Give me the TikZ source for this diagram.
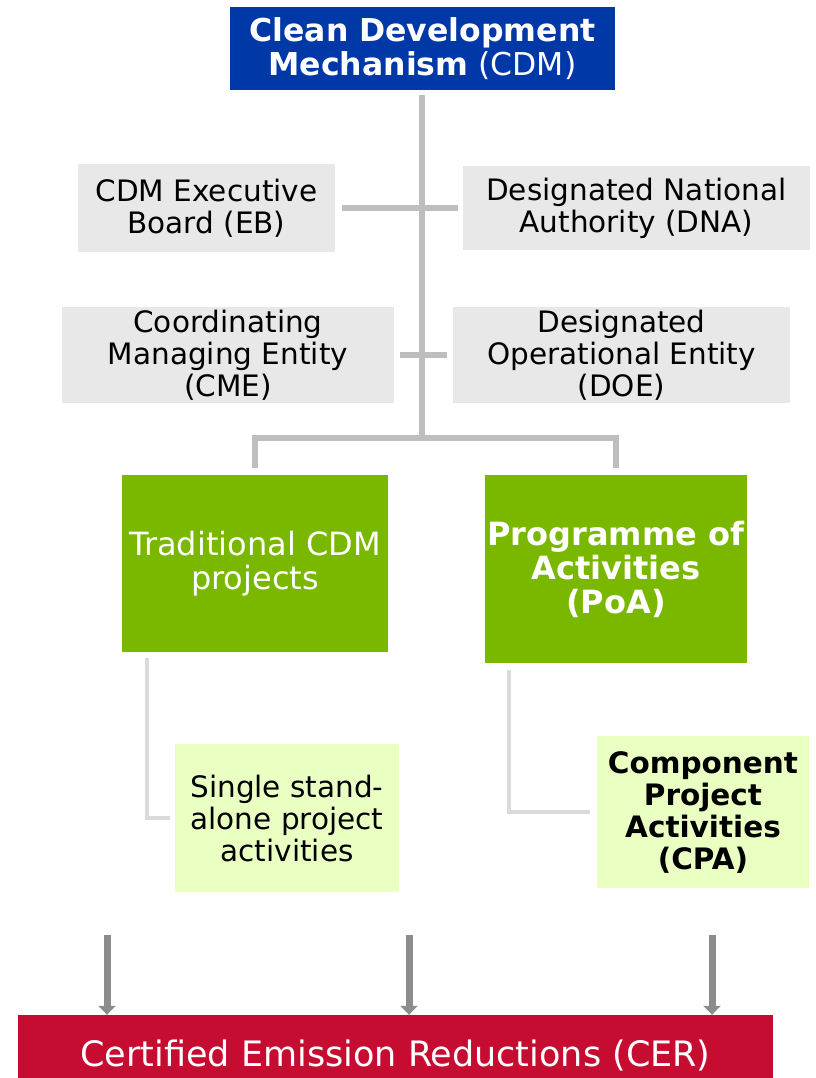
\documentclass[tikz,border=0pt]{standalone}
\usepackage{fontspec}
\setmainfont{DejaVu Sans}
\usepackage{tikz}
\usetikzlibrary{positioning,arrows.meta,calc}

\definecolor{cdmblue}{RGB}{0,56,168}
\definecolor{boxgray}{RGB}{232,232,232}
\definecolor{linegray}{RGB}{190,190,190}
\definecolor{leggray}{RGB}{218,218,218}
\definecolor{arrowgray}{RGB}{140,140,140}
\definecolor{poagreen}{RGB}{122,184,0}
\definecolor{palegreen}{RGB}{234,255,194}
\definecolor{cerred}{RGB}{198,12,48}

\begin{document}
\begin{tikzpicture}[
x=1pt, y=-1pt,
box/.style={
  rectangle,
  inner sep=0pt,
  align=center,
  font=\fontsize{29.5}{32}\selectfont},
bodybox/.style={
  box,
  fill=boxgray},
kindbox/.style={
  box,
  fill=poagreen,
  text=white,
  font=\fontsize{32}{34}\selectfont},
activitybox/.style={
  box,
  fill=palegreen},
trunk/.style={
  draw=linegray,
  line width=6pt},
leg/.style={
  draw=leggray,
  line width=4.5pt},
cerarrow/.style={
  draw=arrowgray,
  line width=7pt,
  -{Triangle[width=17pt,length=9pt]}}
]
\clip (0,0) rectangle (815,1078);
\fill[white] (0,0) rectangle (815,1078);

% top of the tree
\node[box, fill=cdmblue, text=white,
  font=\fontsize{31.5}{34}\selectfont,
  minimum width=385pt, minimum height=83pt]
  (cdm) at (422.5,48.5)
  {\textbf{Clean Development}\\\textbf{Mechanism} (CDM)};

% bodies along the trunk
\node[bodybox, minimum width=257pt, minimum height=88pt]
  (eb) at (206.5,208) {CDM Executive\\Board (EB)};
\node[bodybox, minimum width=347pt, minimum height=84pt]
  (dna) at (636.5,208) {Designated National\\Authority (DNA)};
\node[bodybox, minimum width=332pt, minimum height=96pt]
  (cme) at (228,355) {Coordinating\\Managing Entity\\(CME)};
\node[bodybox, minimum width=337pt, minimum height=96pt]
  (doe) at (621.5,355) {Designated\\Operational Entity\\(DOE)};

% the two kinds of project
\node[kindbox, minimum width=266pt, minimum height=177pt]
  (trad) at (255,563.5) {Traditional CDM\\projects};
\node[kindbox, minimum width=262pt, minimum height=188pt]
  (poa) at (616,569) {\textbf{Programme of}\\\textbf{Activities}\\\textbf{(PoA)}};

\node[activitybox, minimum width=224pt, minimum height=148pt]
  (single) at (287,818) {Single stand-\\alone project\\activities};
\node[activitybox, minimum width=212pt, minimum height=152pt]
  (cpa) at (703,812) {\textbf{Component}\\\textbf{Project}\\\textbf{Activities}\\\textbf{(CPA)}};

\node[box, fill=cerred, text=white,
  font=\fontsize{35}{38}\selectfont,
  minimum width=755pt, minimum height=80pt]
  (cer) at (395.5,1055) {Certified Emission Reductions (CER)};

% connectors
\coordinate (fork) at (422,438);
\draw[trunk, shorten <=5pt] (cdm.south -| fork) -- (fork);
\draw[trunk, shorten <=7pt, shorten >=5pt] (eb.east) -- (dna.west);
\draw[trunk, shorten <=6pt, shorten >=6pt] (cme.east) -- (doe.west);
\draw[trunk] ([yshift=7pt]trad.north) |- (fork) -| ([yshift=7pt]poa.north);

\draw[leg] ([xshift=25pt,yshift=-6pt]trad.south west) |- ([xshift=-5pt]single.west);
\draw[leg] ([xshift=24pt,yshift=-7pt]poa.south west) |- ([xshift=-7pt]cpa.west);

% arrows into the CER bar
\foreach \Name/\X in {a/107,b/409,c/712}{
  \coordinate (\Name) at (\X,935);
  \draw[cerarrow] (\Name) -- (\Name |- cer.north);
}
\end{tikzpicture}
\end{document}
